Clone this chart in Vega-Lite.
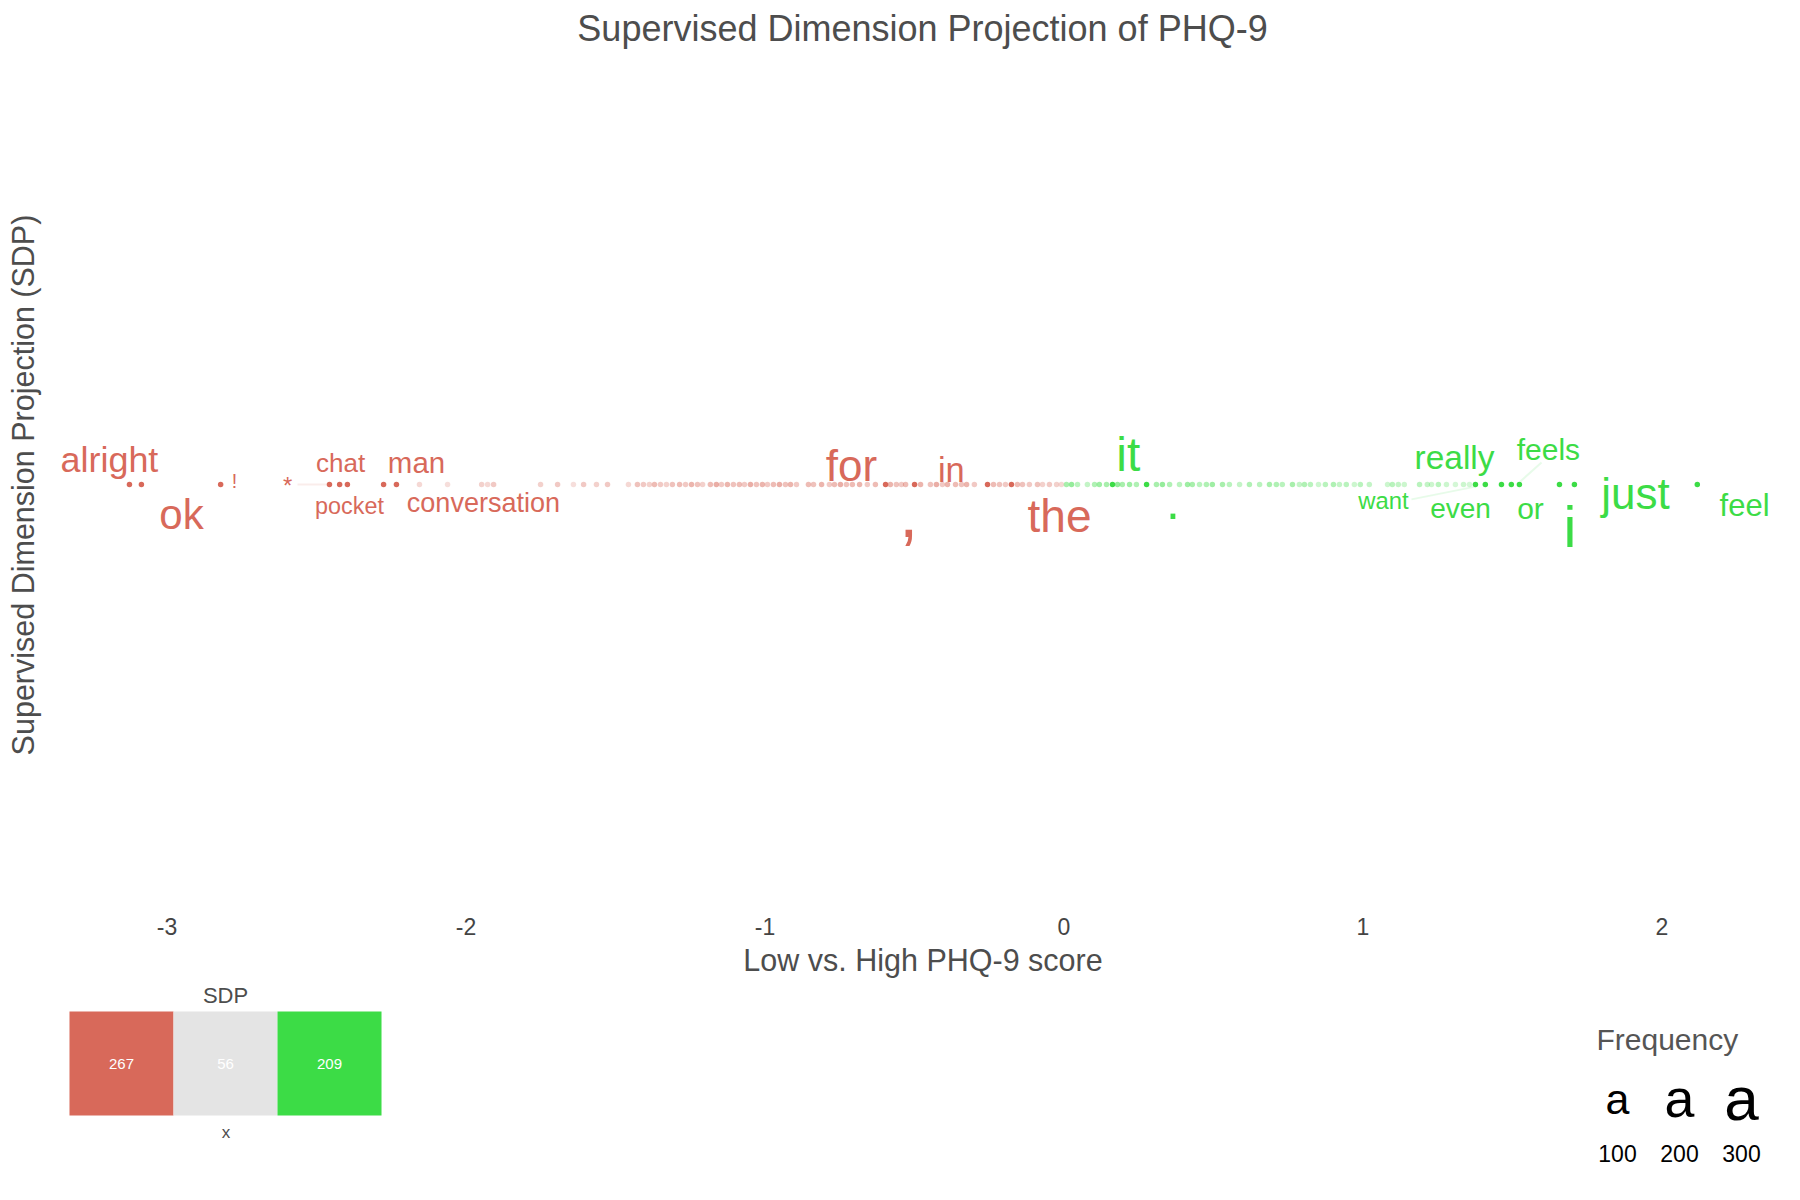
{
  "$schema": "https://vega.github.io/schema/vega-lite/v6.json",
  "background": "white",
  "padding": {"left": 9.5, "top": 11.5, "right": 0, "bottom": 0},
  "config": {"view": {"stroke": null}, "font": "Liberation Sans"},
  "spacing": 7,
  "resolve": {"scale": {"color": "independent", "size": "independent", "x": "independent", "y": "independent"}},
  "datasets": {
    "points": [
      {"x": -3.124, "group": "low", "weight": 1}, {"x": -3.084, "group": "low", "weight": 1}, {"x": -2.819, "group": "low", "weight": 1},
      {"x": -2.455, "group": "low", "weight": 1}, {"x": -2.421, "group": "low", "weight": 1}, {"x": -2.395, "group": "low", "weight": 1},
      {"x": -2.274, "group": "low", "weight": 1}, {"x": -2.231, "group": "low", "weight": 1},
      {"x": -0.595, "group": "low", "weight": 1}, {"x": -0.498, "group": "low", "weight": 1}, {"x": -0.254, "group": "low", "weight": 1}, {"x": -0.174, "group": "low", "weight": 1},
      {"x": 0.164, "group": "high", "weight": 1}, {"x": 0.278, "group": "high", "weight": 1}, {"x": 1.378, "group": "high", "weight": 1}, {"x": 1.411, "group": "high", "weight": 1},
      {"x": 1.465, "group": "high", "weight": 1}, {"x": 1.498, "group": "high", "weight": 1}, {"x": 1.525, "group": "high", "weight": 1}, {"x": 1.659, "group": "high", "weight": 1},
      {"x": 1.709, "group": "high", "weight": 1}, {"x": 2.120, "group": "high", "weight": 1},
      {"x": -2.154, "group": "low", "weight": 0.2}, {"x": -2.060, "group": "low", "weight": 0.15}, {"x": -1.946, "group": "low", "weight": 0.25},
      {"x": -1.926, "group": "low", "weight": 0.2}, {"x": -1.906, "group": "low", "weight": 0.3}, {"x": -1.749, "group": "low", "weight": 0.25},
      {"x": -1.692, "group": "low", "weight": 0.3}, {"x": -1.639, "group": "low", "weight": 0.15}, {"x": -1.605, "group": "low", "weight": 0.3},
      {"x": -1.562, "group": "low", "weight": 0.25}, {"x": -1.525, "group": "low", "weight": 0.3}, {"x": -1.455, "group": "low", "weight": 0.2},
      {"x": -1.425, "group": "low", "weight": 0.35}, {"x": -1.405, "group": "low", "weight": 0.3}, {"x": -1.385, "group": "low", "weight": 0.25},
      {"x": -1.368, "group": "low", "weight": 0.4}, {"x": -1.348, "group": "low", "weight": 0.3}, {"x": -1.328, "group": "low", "weight": 0.25},
      {"x": -1.308, "group": "low", "weight": 0.35}, {"x": -1.284, "group": "low", "weight": 0.4}, {"x": -1.264, "group": "low", "weight": 0.3},
      {"x": -1.244, "group": "low", "weight": 0.45}, {"x": -1.224, "group": "low", "weight": 0.35}, {"x": -1.207, "group": "low", "weight": 0.25},
      {"x": -1.181, "group": "low", "weight": 0.4}, {"x": -1.161, "group": "low", "weight": 0.5}, {"x": -1.144, "group": "low", "weight": 0.3},
      {"x": -1.124, "group": "low", "weight": 0.45}, {"x": -1.104, "group": "low", "weight": 0.35}, {"x": -1.084, "group": "low", "weight": 0.4},
      {"x": -1.067, "group": "low", "weight": 0.3}, {"x": -1.047, "group": "low", "weight": 0.5}, {"x": -1.027, "group": "low", "weight": 0.35},
      {"x": -1.007, "group": "low", "weight": 0.45}, {"x": -0.990, "group": "low", "weight": 0.3}, {"x": -0.970, "group": "low", "weight": 0.4},
      {"x": -0.950, "group": "low", "weight": 0.5}, {"x": -0.930, "group": "low", "weight": 0.35}, {"x": -0.913, "group": "low", "weight": 0.45},
      {"x": -0.893, "group": "low", "weight": 0.3}, {"x": -0.853, "group": "low", "weight": 0.4}, {"x": -0.836, "group": "low", "weight": 0.35},
      {"x": -0.809, "group": "low", "weight": 0.45}, {"x": -0.783, "group": "low", "weight": 0.3}, {"x": -0.766, "group": "low", "weight": 0.4},
      {"x": -0.746, "group": "low", "weight": 0.5}, {"x": -0.726, "group": "low", "weight": 0.35}, {"x": -0.706, "group": "low", "weight": 0.4},
      {"x": -0.682, "group": "low", "weight": 0.45}, {"x": -0.656, "group": "low", "weight": 0.3}, {"x": -0.629, "group": "low", "weight": 0.4},
      {"x": -0.579, "group": "low", "weight": 0.45}, {"x": -0.559, "group": "low", "weight": 0.35}, {"x": -0.542, "group": "low", "weight": 0.3},
      {"x": -0.528, "group": "low", "weight": 0.4}, {"x": -0.478, "group": "low", "weight": 0.45}, {"x": -0.445, "group": "low", "weight": 0.35},
      {"x": -0.425, "group": "low", "weight": 0.5}, {"x": -0.405, "group": "low", "weight": 0.3}, {"x": -0.388, "group": "low", "weight": 0.45},
      {"x": -0.361, "group": "low", "weight": 0.4}, {"x": -0.341, "group": "low", "weight": 0.35}, {"x": -0.324, "group": "low", "weight": 0.45},
      {"x": -0.298, "group": "low", "weight": 0.3}, {"x": -0.234, "group": "low", "weight": 0.4}, {"x": -0.214, "group": "low", "weight": 0.35},
      {"x": -0.194, "group": "low", "weight": 0.3}, {"x": -0.154, "group": "low", "weight": 0.4}, {"x": -0.137, "group": "low", "weight": 0.35},
      {"x": -0.114, "group": "low", "weight": 0.3}, {"x": -0.087, "group": "low", "weight": 0.35}, {"x": -0.070, "group": "low", "weight": 0.25},
      {"x": -0.047, "group": "low", "weight": 0.3}, {"x": -0.023, "group": "low", "weight": 0.25}, {"x": -0.007, "group": "low", "weight": 0.2},
      {"x": 0.010, "group": "high", "weight": 0.4}, {"x": 0.027, "group": "high", "weight": 0.5}, {"x": 0.047, "group": "high", "weight": 0.3},
      {"x": 0.080, "group": "high", "weight": 0.25}, {"x": 0.104, "group": "high", "weight": 0.35}, {"x": 0.120, "group": "high", "weight": 0.45},
      {"x": 0.144, "group": "high", "weight": 0.4}, {"x": 0.181, "group": "high", "weight": 0.5}, {"x": 0.197, "group": "high", "weight": 0.4},
      {"x": 0.221, "group": "high", "weight": 0.45}, {"x": 0.244, "group": "high", "weight": 0.35}, {"x": 0.311, "group": "high", "weight": 0.4},
      {"x": 0.331, "group": "high", "weight": 0.5}, {"x": 0.355, "group": "high", "weight": 0.35}, {"x": 0.388, "group": "high", "weight": 0.3},
      {"x": 0.415, "group": "high", "weight": 0.45}, {"x": 0.431, "group": "high", "weight": 0.4}, {"x": 0.455, "group": "high", "weight": 0.3},
      {"x": 0.478, "group": "high", "weight": 0.35}, {"x": 0.498, "group": "high", "weight": 0.45}, {"x": 0.532, "group": "high", "weight": 0.4},
      {"x": 0.555, "group": "high", "weight": 0.3}, {"x": 0.589, "group": "high", "weight": 0.25}, {"x": 0.622, "group": "high", "weight": 0.35},
      {"x": 0.656, "group": "high", "weight": 0.3}, {"x": 0.689, "group": "high", "weight": 0.4}, {"x": 0.712, "group": "high", "weight": 0.35},
      {"x": 0.732, "group": "high", "weight": 0.3}, {"x": 0.766, "group": "high", "weight": 0.4}, {"x": 0.789, "group": "high", "weight": 0.25},
      {"x": 0.806, "group": "high", "weight": 0.35}, {"x": 0.826, "group": "high", "weight": 0.3}, {"x": 0.853, "group": "high", "weight": 0.2},
      {"x": 0.876, "group": "high", "weight": 0.3}, {"x": 0.903, "group": "high", "weight": 0.35}, {"x": 0.923, "group": "high", "weight": 0.25},
      {"x": 0.946, "group": "high", "weight": 0.3}, {"x": 0.973, "group": "high", "weight": 0.2}, {"x": 0.993, "group": "high", "weight": 0.3},
      {"x": 1.023, "group": "high", "weight": 0.25}, {"x": 1.084, "group": "high", "weight": 0.2}, {"x": 1.100, "group": "high", "weight": 0.3},
      {"x": 1.120, "group": "high", "weight": 0.25}, {"x": 1.140, "group": "high", "weight": 0.2}, {"x": 1.191, "group": "high", "weight": 0.3},
      {"x": 1.217, "group": "high", "weight": 0.25}, {"x": 1.231, "group": "high", "weight": 0.2}, {"x": 1.254, "group": "high", "weight": 0.3},
      {"x": 1.281, "group": "high", "weight": 0.2}, {"x": 1.311, "group": "high", "weight": 0.15}, {"x": 1.338, "group": "high", "weight": 0.2},
      {"x": 1.358, "group": "high", "weight": 0.15}
    ],
    "labels": [
      {"word": "alright", "group": "low", "freq": 53, "lx": -3.191, "ly": 0.056},
      {"word": "ok", "group": "low", "freq": 93, "lx": -2.950, "ly": -0.075},
      {"word": "!", "group": "low", "freq": 1, "lx": -2.773, "ly": 0.006},
      {"word": "*", "group": "low", "freq": 7, "lx": -2.595, "ly": -0.006},
      {"word": "chat", "group": "low", "freq": 12, "lx": -2.418, "ly": 0.048},
      {"word": "pocket", "group": "low", "freq": 6, "lx": -2.388, "ly": -0.053},
      {"word": "man", "group": "low", "freq": 23, "lx": -2.164, "ly": 0.049},
      {"word": "conversation", "group": "low", "freq": 15, "lx": -1.940, "ly": -0.047},
      {"word": "for", "group": "low", "freq": 108, "lx": -0.709, "ly": 0.038},
      {"word": ",", "group": "low", "freq": 385, "lx": -0.518, "ly": -0.077},
      {"word": "in", "group": "low", "freq": 45, "lx": -0.375, "ly": 0.029},
      {"word": "the", "group": "low", "freq": 125, "lx": -0.013, "ly": -0.078},
      {"word": "it", "group": "high", "freq": 142, "lx": 0.217, "ly": 0.064},
      {"word": ".", "group": "high", "freq": 161, "lx": 0.366, "ly": -0.045},
      {"word": "really", "group": "high", "freq": 40, "lx": 1.308, "ly": 0.059},
      {"word": "want", "group": "high", "freq": 7, "lx": 1.070, "ly": -0.042},
      {"word": "even", "group": "high", "freq": 18, "lx": 1.328, "ly": -0.059},
      {"word": "feels", "group": "high", "freq": 25, "lx": 1.622, "ly": 0.078},
      {"word": "or", "group": "high", "freq": 25, "lx": 1.562, "ly": -0.061},
      {"word": "i", "group": "high", "freq": 249, "lx": 1.694, "ly": -0.106},
      {"word": "just", "group": "high", "freq": 108, "lx": 1.913, "ly": -0.026},
      {"word": "feel", "group": "high", "freq": 29, "lx": 2.278, "ly": -0.054}
    ],
    "segments": [
      {"word": "want", "group": "high", "x1": 1.164, "y1": -0.035, "x2": 1.378, "y2": -0.005},
      {"word": "feels", "group": "high", "x1": 1.528, "y1": 0.007, "x2": 1.599, "y2": 0.052},
      {"word": "*", "group": "low", "x1": -2.562, "y1": 0, "x2": -2.458, "y2": 0}
    ],
    "counts": [
      {"bin": "low", "n": 267},
      {"bin": "mid", "n": 56},
      {"bin": "high", "n": 209}
    ],
    "freqlegend": [
      {"freq": 100}, {"freq": 200}, {"freq": 300}
    ]
  },
  "vconcat": [
    {
      "width": 1726,
      "height": 850,
      "title": {"text": "Supervised Dimension Projection of PHQ-9", "fontSize": 36, "fontWeight": "normal", "color": "#4d4d4d", "anchor": "middle", "baseline": "top", "offset": 10.5},
      "layer": [
        {
          "data": {"name": "segments"},
          "mark": {"type": "rule", "strokeWidth": 2, "opacity": 0.12},
          "encoding": {
            "x": {"field": "x1", "type": "quantitative", "scale": {"domain": [-3.358, 2.415], "nice": false, "zero": false},
              "axis": {"values": [-3, -2, -1, 0, 1, 2], "labelExpr": "'' + datum.value", "labelFontSize": 23, "labelColor": "#444444", "ticks": false, "domain": false, "grid": false, "labelPadding": 7,
                "title": "Low vs. High PHQ-9 score", "titleFontSize": 30.5, "titleFontWeight": "normal", "titleColor": "#4d4d4d", "titlePadding": 7}},
            "x2": {"field": "x2"},
            "y": {"field": "y1", "type": "quantitative", "scale": {"domain": [-1, 1], "nice": false, "zero": false},
              "axis": {"title": "Supervised Dimension Projection (SDP)", "labels": false, "ticks": false, "domain": false, "grid": false, "titleFontSize": 30.5, "titleFontWeight": "normal", "titleColor": "#4d4d4d", "titlePadding": 20}},
            "y2": {"field": "y2"},
            "color": {"field": "group", "type": "nominal", "scale": {"domain": ["low", "high"], "range": ["#D8695A", "#3CDC46"]}, "legend": null}
          }
        },
        {
          "data": {"name": "points"},
          "mark": {"type": "circle", "size": 30},
          "encoding": {
            "x": {"field": "x", "type": "quantitative"},
            "y": {"datum": 0, "type": "quantitative"},
            "color": {"field": "group", "type": "nominal", "legend": null},
            "opacity": {"field": "weight", "type": "quantitative", "scale": {"domain": [0, 1], "range": [0.08, 1]}, "legend": null}
          }
        },
        {
          "data": {"name": "labels"},
          "mark": {"type": "text", "align": "center", "baseline": "middle"},
          "encoding": {
            "x": {"field": "lx", "type": "quantitative"},
            "y": {"field": "ly", "type": "quantitative"},
            "text": {"field": "word"},
            "size": {"field": "freq", "type": "quantitative", "scale": {"type": "sqrt", "domain": [0, 300], "range": [17, 62]}, "legend": null},
            "color": {"field": "group", "type": "nominal", "legend": null}
          }
        }
      ]
    },
    {
      "spacing": 1195,
      "resolve": {"scale": {"color": "independent", "size": "independent", "x": "independent", "y": "independent"}},
      "hconcat": [
        {
          "data": {"name": "counts"},
          "width": 332,
          "height": 104,
          "title": {"text": "SDP", "fontSize": 22, "fontWeight": "normal", "color": "#4d4d4d", "anchor": "middle", "baseline": "top", "offset": 3.5},
          "layer": [
            {
              "mark": "rect",
              "encoding": {
                "x": {"field": "bin", "type": "nominal", "sort": ["low", "mid", "high"], "scale": {"type": "band", "paddingInner": 0, "paddingOuter": 0.096},
                  "axis": {"title": "x", "labels": false, "ticks": false, "domain": false, "titleFontSize": 17, "titleFontWeight": "normal", "titleColor": "#4d4d4d", "titlePadding": 9}},
                "color": {"field": "bin", "type": "nominal", "scale": {"domain": ["low", "mid", "high"], "range": ["#D8695A", "#E4E4E4", "#3CDC46"]}, "legend": null}
              }
            },
            {
              "mark": {"type": "text", "color": "white", "fontSize": 15, "align": "center", "baseline": "middle"},
              "encoding": {
                "x": {"field": "bin", "type": "nominal", "sort": ["low", "mid", "high"]},
                "text": {"field": "n"}
              }
            }
          ]
        },
        {
          "data": {"name": "freqlegend"},
          "width": 186,
          "height": 130,
          "title": {"text": "Frequency", "fontSize": 30, "fontWeight": "normal", "color": "#555555", "anchor": "start", "baseline": "top", "offset": -44, "dx": 10},
          "mark": {"type": "text", "text": "a", "color": "black", "align": "center", "baseline": "middle"},
          "encoding": {
            "x": {"field": "freq", "type": "ordinal", "scale": {"type": "band", "paddingInner": 0, "paddingOuter": 0},
              "axis": {"title": null, "labelFontSize": 23, "labelColor": "black", "ticks": false, "domain": false, "labelPadding": 2, "labelAngle": 0}},
            "y": {"datum": 0.315, "type": "quantitative", "scale": {"domain": [0, 1], "nice": false}, "axis": null},
            "size": {"field": "freq", "type": "quantitative", "scale": {"type": "sqrt", "domain": [0, 300], "range": [17, 62]}, "legend": null}
          }
        }
      ]
    }
  ]
}
